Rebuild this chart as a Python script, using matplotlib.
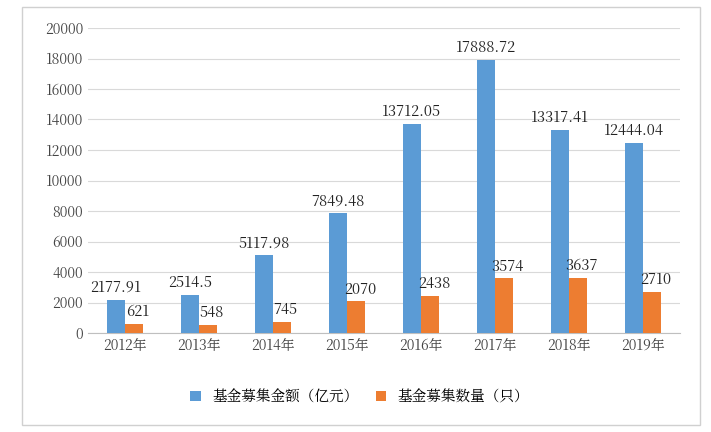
import matplotlib
matplotlib.use("Agg")
import matplotlib.pyplot as plt
from matplotlib import font_manager as fm
import numpy as np
from matplotlib.patches import Rectangle

cjk = None
for f in fm.findSystemFonts():
    if "CJK" in f or "cjk" in f.lower():
        try:
            fm.fontManager.addfont(f)
            name = fm.FontProperties(fname=f).get_name()
            if cjk is None or "SC" in name:
                cjk = name
        except Exception:
            pass
plt.rcParams["font.family"] = [cjk or "Noto Sans CJK SC", "DejaVu Sans"]

years = ["2012年", "2013年", "2014年", "2015年", "2016年", "2017年", "2018年", "2019年"]
amount = [2177.91, 2514.5, 5117.98, 7849.48, 13712.05, 17888.72, 13317.41, 12444.04]
amount_labels = ["2177.91", "2514.5", "5117.98", "7849.48", "13712.05", "17888.72", "13317.41", "12444.04"]
count = [621, 548, 745, 2070, 2438, 3574, 3637, 2710]
yticks = list(range(0, 20001, 2000))

fig = plt.figure(figsize=(7.11, 4.32), dpi=100)
fig.patches.append(Rectangle((22/711, 7/432), 678/711, 418/432, transform=fig.transFigure,
                             fill=False, edgecolor="#D0D0D0", linewidth=1))
ax = fig.add_axes([88/711, 1-333/432, 592/711, 305/432])
x = np.arange(len(years))
w = 0.245
b1 = ax.bar(x - w/2, amount, w, color="#5B9BD5", label="基金募集金额（亿元）", zorder=3)
b2 = ax.bar(x + w/2, count, w, color="#ED7D31", label="基金募集数量（只）", zorder=3)
for i in range(len(years)):
    ax.text(x[i] - w/2, amount[i] + 250, amount_labels[i], ha="center", va="bottom", fontsize=10.5, color="#222")
    ax.text(x[i] + w/2 + 0.05, count[i] + 250, str(count[i]), ha="center", va="bottom", fontsize=10.5, color="#222")
ax.set_xlim(-0.5, len(years) - 0.5)
ax.set_ylim(0, 20000)
ax.set_yticks(yticks)
ax.set_xticks(x)
ax.set_xticklabels(years)
ax.tick_params(length=0, labelsize=10, colors="#444")
ax.grid(axis="y", color="#D9D9D9", linewidth=0.8, zorder=0)
for s in ["top", "right", "left"]:
    ax.spines[s].set_visible(False)
ax.spines["bottom"].set_color("#BFBFBF")
fig.legend(handles=[b1, b2], loc="center", bbox_to_anchor=(360/711, 1-397/432), ncol=2,
           frameon=False, fontsize=10.5, handlelength=0.7, handleheight=0.7, columnspacing=1.2)
fig.savefig("out.png", dpi=100)
